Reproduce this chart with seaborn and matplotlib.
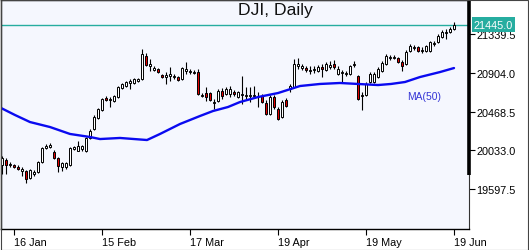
import numpy as np
import pandas as pd
import matplotlib
matplotlib.use("Agg")
import matplotlib.pyplot as plt
import matplotlib.transforms as mtransforms
from matplotlib.patches import Rectangle
import seaborn as sns

# ---- data ----
opens = [19867, 19923, 19867, 19867, 19845, 19800, 19800, 19721, 19766, 19789,
         19901, 20058, 20070, 20013, 19946, 19845, 19845, 19867, 20047, 20025,
         20047, 20025, 20171, 20272, 20395, 20485, 20620, 20598, 20587, 20631,
         20733, 20755, 20789, 20789, 20811, 20834, 21092, 20980, 20935, 20946,
         20879, 20856, 20868, 20856, 20856, 20834, 20924, 20912, 20901, 20912,
         20643, 20676, 20676, 20564, 20587, 20699, 20665, 20665, 20688, 20631,
         20654, 20643, 20643, 20643, 20631, 20643, 20564, 20440, 20631, 20497,
         20407, 20598, 20721, 20744, 20980, 20957, 20957, 20924, 20935, 20924,
         20969, 20935, 20969, 21002, 20890, 20901, 20890, 20890, 20991, 20868,
         20643, 20654, 20800, 20800, 20856, 20924, 21002, 21070, 21070, 21070,
         21025, 21002, 21148, 21182, 21193, 21148, 21148, 21148, 21227, 21250,
         21306, 21351, 21362, 21396]
closes = [19946, 19867, 19878, 19845, 19822, 19822, 19710, 19811, 19789, 19901,
          20058, 20081, 20092, 19946, 19856, 19890, 19890, 20058, 20070, 20081,
          20081, 20171, 20249, 20407, 20497, 20609, 20598, 20609, 20643, 20744,
          20778, 20800, 20811, 20834, 20834, 21115, 20991, 21002, 20957, 20912,
          20856, 20879, 20890, 20868, 20823, 20957, 20946, 20924, 20912, 20665,
          20654, 20631, 20598, 20575, 20699, 20643, 20721, 20721, 20665, 20688,
          20665, 20654, 20654, 20654, 20643, 20575, 20440, 20631, 20519, 20384,
          20575, 20530, 20755, 21002, 21002, 20980, 20935, 20935, 20946, 20969,
          20946, 21002, 20991, 20969, 20946, 20912, 20901, 20980, 21002, 20609,
          20654, 20778, 20890, 20890, 20946, 21014, 21092, 21081, 21081, 21025,
          20980, 21137, 21205, 21193, 21148, 21160, 21205, 21250, 21238, 21317,
          21362, 21362, 21396, 21445]
highs = [19968, 19946, 19901, 19878, 19867, 19845, 19811, 19822, 19811, 19912,
         20070, 20103, 20114, 20036, 19957, 19901, 19901, 20070, 20081, 20137,
         20092, 20182, 20272, 20429, 20508, 20620, 20643, 20631, 20654, 20755,
         20789, 20811, 20834, 20845, 20845, 21171, 21126, 21059, 20980, 20957,
         20890, 20912, 20969, 20890, 20868, 20969, 21025, 20946, 20935, 20946,
         20676, 20744, 20688, 20609, 20721, 20733, 20744, 20755, 20710, 20699,
         20868, 20744, 20744, 20755, 20688, 20665, 20598, 20654, 20654, 20519,
         20598, 20620, 20778, 21059, 21070, 21002, 20980, 20980, 20980, 20991,
         21002, 21025, 21036, 21047, 20980, 20935, 20924, 20991, 21036, 20879,
         20688, 20800, 20912, 20912, 20969, 21036, 21115, 21104, 21104, 21081,
         21047, 21160, 21227, 21216, 21205, 21193, 21216, 21261, 21261, 21340,
         21385, 21396, 21418, 21474]
lows = [19766, 19766, 19845, 19833, 19811, 19744, 19665, 19710, 19744, 19777,
        19890, 20047, 20058, 19935, 19789, 19800, 19822, 19856, 20036, 20025,
        20025, 20013, 20159, 20261, 20384, 20474, 20587, 20519, 20575, 20620,
        20721, 20744, 20721, 20778, 20800, 20823, 20980, 20924, 20924, 20901,
        20845, 20778, 20811, 20834, 20811, 20823, 20890, 20890, 20890, 20654,
        20631, 20587, 20587, 20497, 20575, 20609, 20654, 20631, 20643, 20620,
        20553, 20609, 20575, 20620, 20519, 20564, 20429, 20429, 20497, 20373,
        20395, 20519, 20688, 20733, 20946, 20935, 20912, 20890, 20901, 20912,
        20856, 20924, 20946, 20946, 20879, 20789, 20868, 20879, 20969, 20598,
        20485, 20643, 20789, 20789, 20845, 20912, 20991, 21047, 21059, 21014,
        20924, 20991, 21137, 21160, 21137, 21126, 21137, 21137, 21205, 21238,
        21295, 21283, 21351, 21385]

ma_idx = [-0.25, 3.25, 7, 12, 17, 22, 24.5, 29.5, 36.25, 39.5, 44.5, 49.5, 52.75,
          56.5, 59.5, 64, 69, 74.5, 79.5, 84.5, 89, 94, 97.25, 100.75, 104.5,
          109.5, 113]
ma_val = [20508, 20429, 20350, 20294, 20216, 20182, 20159, 20171, 20148, 20216,
          20328, 20418, 20474, 20519, 20575, 20631, 20676, 20755, 20778, 20789,
          20778, 20766, 20778, 20800, 20856, 20912, 20957]

x_tick_pos = [3, 25, 47, 69, 91, 113]
x_tick_labels = ["16 Jan", "15 Feb", "17 Mar", "19 Apr", "19 May", "19 Jun"]
y_ticks = [19597.5, 20033.0, 20468.5, 20904.0, 21339.5]
last_price = 21445.0
title = "DJI, Daily"
ma_label = "MA(50)"

# ---- style ----
sns.set_style("white")
plt.rcParams['font.family'] = ['Liberation Sans', 'DejaVu Sans']

W, H = 529, 251
fig = plt.figure(figsize=(W / 100, H / 100), dpi=100)
ax = fig.add_axes([1 / W, 21 / H, 468 / W, 229 / H])
ax.set_facecolor('#F5F7FE')

df = pd.DataFrame(dict(i=np.arange(len(opens)), o=opens, h=highs, l=lows, c=closes))
up = df.c >= df.o

ax.axhline(last_price, color='#26ADA0', lw=1.0, zorder=1)

ax.vlines(df.i, df.l, df.h, color='black', lw=0.8, zorder=2)
body_bottom = np.minimum(df.o, df.c)
body_h = np.maximum(np.abs(df.c - df.o), 9)
colors = np.where(up, 'white', '#E00000')
ax.bar(df.i, body_h, bottom=body_bottom, width=0.55, color=colors,
       edgecolor='black', linewidth=0.7, zorder=3)

ma_df = pd.DataFrame(dict(idx=ma_idx, ma=ma_val))
sns.lineplot(data=ma_df, x='idx', y='ma', ax=ax, color='#0A0AF0', lw=1.7,
             zorder=4, sort=False)

ax.set_xlim(-0.25, 116.75)
ax.set_ylim(19147.8, 21721.8)

# axes / ticks
ax.set_xlabel('')
ax.set_ylabel('')
ax.set_xticks(x_tick_pos)
ax.set_xticklabels(x_tick_labels)
for lbl in ax.get_xticklabels():
    lbl.set_ha('left')
ax.tick_params(axis='x', bottom=True, direction='out', length=4, width=0.8,
               pad=1.5, labelsize=7.8, colors='black')
ax.yaxis.tick_right()
ax.set_yticks(y_ticks)
ax.set_yticklabels([f"{v:.1f}" for v in y_ticks])
ax.tick_params(axis='y', right=True, left=False, direction='out', length=4.5,
               width=0.8, pad=1, labelsize=7.8, colors='black')

for s in ['left', 'top', 'bottom']:
    ax.spines[s].set_visible(True)
    ax.spines[s].set_color('black')
    ax.spines[s].set_linewidth(1.0)
ax.spines['right'].set_color('#333333')
ax.spines['right'].set_linewidth(0.8)

# thick bar on the right edge (upper part)
ax.plot([1.0, 1.0], [1.0, (230 - 176) / 229], transform=ax.transAxes,
        color='black', lw=2.6, clip_on=False, solid_capstyle='butt', zorder=6)

# last price label
trans = mtransforms.blended_transform_factory(ax.transAxes, ax.transData)
ax.text(1.0 + 5 / 468, last_price, f"{last_price:.1f}", transform=trans,
        ha='left', va='center', color='white', fontsize=7.8, zorder=10,
        clip_on=False,
        bbox=dict(boxstyle='square,pad=0.2', fc='#26ADA0', ec='none'))

# MA label
ax.text((407 - 1) / 468, (230 - 97) / 229, ma_label, transform=ax.transAxes,
        ha='left', va='center', color='#3434D6', fontsize=7.4, zorder=5)

# title
fig.text(238 / W, 1 - 15 / H, title, ha='left', va='baseline',
         fontsize=12.6, color='#111111')

# outer frame
fig.patches.append(Rectangle((0.5 / W, 0.5 / H), 1 - 1.5 / W, 1 - 1.5 / H,
                             transform=fig.transFigure, fill=False,
                             edgecolor='#444444', lw=0.8))

fig.savefig('out.png', dpi=100)
